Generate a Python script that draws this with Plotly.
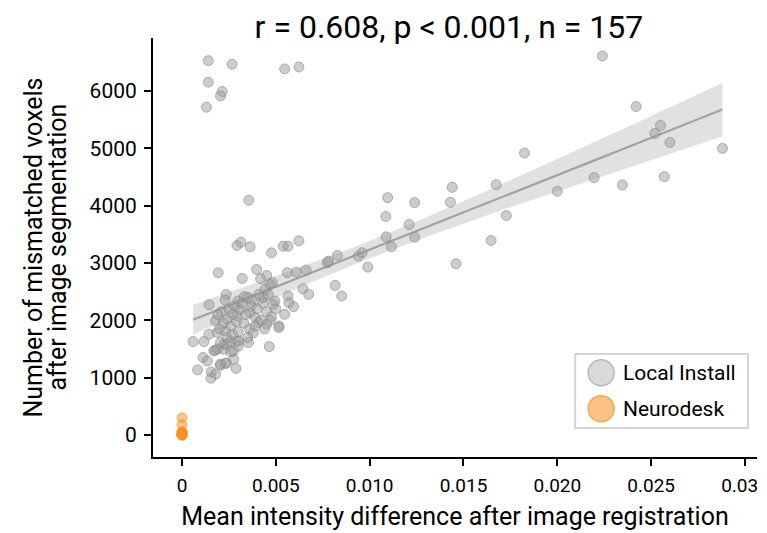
import numpy as np
import plotly.graph_objects as go

# values (estimates)
local_x = [
    0.0014, 0.00267, 0.0014, 0.00214, 0.00205, 0.0013, 0.00547, 0.00623,
    0.0224, 0.0242, 0.0255, 0.0252, 0.0260, 0.0288, 0.01825, 0.0200, 0.02196, 0.02347, 0.0257,
    0.01096, 0.0124, 0.0144, 0.0143, 0.01674, 0.01086, 0.0121, 0.01728, 0.01088, 0.0124,
    0.01116, 0.01647, 0.0096, 0.0094, 0.0099, 0.0146,
    0.00539, 0.00565, 0.00623, 0.00477, 0.00561, 0.00609, 0.00661, 0.00775, 0.0078, 0.00828,
    0.00482, 0.00644, 0.00675, 0.00816, 0.00851, 0.00565, 0.0057, 0.00595, 0.00495, 0.00486,
    0.00547, 0.00477, 0.00517, 0.00465, 0.00356,
    0.00293, 0.00314, 0.00363, 0.00193, 0.00321, 0.00398, 0.00451, 0.00419, 0.00235, 0.00144,
    0.00332, 0.00298, 0.00372, 0.00442, 0.00468, 0.00433,
    0.00059, 0.00117, 0.00112, 0.00135, 0.00083, 0.00156, 0.00179, 0.00154, 0.00205, 0.00237,
    0.00275, 0.00288, 0.00175, 0.00223, 0.00223, 0.00258, 0.00293, 0.00354, 0.00179, 0.0024,
    0.00293, 0.00363, 0.00407, 0.00451, 0.00516, 0.00144, 0.00188, 0.00232, 0.00302, 0.00205,
    0.0024, 0.00188, 0.0017, 0.00275, 0.00205, 0.00232,
    0.0021, 0.0025, 0.0028, 0.0031, 0.0034, 0.0037, 0.0040, 0.0043, 0.0045, 0.0022,
    0.0026, 0.0029, 0.0033, 0.0036, 0.0039, 0.0042, 0.0047, 0.0050, 0.0024, 0.0027,
    0.0030, 0.0035, 0.0038, 0.0020, 0.0032, 0.0035, 0.0027, 0.0041, 0.0046, 0.0019,
    0.0023, 0.0030, 0.0026, 0.0039, 0.0044,
]
local_y = [
    6527, 6464, 6151, 5988, 5913, 5716, 6383, 6417,
    6609, 5727, 5397, 5257, 5101, 4997, 4917, 4249, 4487, 4360, 4504,
    4139, 4052, 4318, 4058, 4365, 3809, 3670, 3826, 3456, 3449,
    3281, 3391, 3177, 3118, 2927, 2986,
    3292, 3292, 3386, 3177, 2829, 2840, 2875, 3003, 3032, 3130,
    2656, 2551, 2452, 2609, 2423, 2423, 2307, 2238, 2336, 2278,
    2104, 2064, 1901, 1542, 4092,
    3304, 3362, 3281, 2829, 2730, 2887, 2783, 2725, 2452, 2272,
    2412, 2336, 2365, 2539, 2626, 2394,
    1629, 1629, 1351, 1292, 1136, 1101, 1061, 991, 1217, 1252,
    1322, 1160, 1478, 1496, 1583, 1640, 1640, 1612, 1988, 2017,
    2075, 2134, 1960, 1930, 1873, 1757, 1786, 1814, 1640, 1612,
    1583, 1496, 1466, 1466, 1235, 1252,
    2150, 2200, 2250, 2180, 2100, 2250, 2200, 2300, 2150, 1950,
    1900, 1980, 1950, 1850, 2050, 2000, 2000, 2200, 1700, 1750,
    1800, 1700, 1780, 1850, 2300, 2400, 2100, 2450, 2450, 2100,
    2350, 1550, 1450, 1900, 1850,
]
neuro_x = [0, 0, 0, 0, 0, 0, 0, 0, 0, 0]
neuro_y = [300, 180, 60, 40, 30, 20, 10, 0, 0, 0]

x_ticks = [0, 0.005, 0.010, 0.015, 0.020, 0.025, 0.030]
x_tick_text = ["0", "0.005", "0.010", "0.015", "0.020", "0.025", "0.030"]
y_ticks = [0, 1000, 2000, 3000, 4000, 5000, 6000]
legend_names = ["Local Install", "Neurodesk"]
y_title_lines = ["Number of mismatched voxels", "after image segmentation"]

FONT = "Roboto"

# linear fit with a robust (sandwich) 95% band, close to a bootstrap band
lx = np.array(local_x)
ly = np.array(local_y)
n = len(lx)
X = np.column_stack([np.ones(n), lx])
beta, *_ = np.linalg.lstsq(X, ly, rcond=None)
resid = ly - X @ beta
xtx_inv = np.linalg.inv(X.T @ X)
meat = X.T @ (X * (resid ** 2)[:, None])
cov = xtx_inv @ meat @ xtx_inv * n / (n - 2)
grid = np.linspace(lx.min(), lx.max(), 100)
G = np.column_stack([np.ones_like(grid), grid])
fit = G @ beta
half = 1.975 * np.sqrt(np.einsum("ij,jk,ik->i", G, cov, G))

fig = go.Figure()

fig.add_trace(go.Scatter(
    x=np.concatenate([grid, grid[::-1]]),
    y=np.concatenate([fit + half, (fit - half)[::-1]]),
    fill="toself", fillcolor="rgba(205,205,205,0.6)",
    line=dict(width=0), hoverinfo="skip", showlegend=False,
))
fig.add_trace(go.Scatter(
    x=grid, y=fit, mode="lines",
    line=dict(color="#a3a3a3", width=2.2), showlegend=False,
))
fig.add_trace(go.Scatter(
    x=local_x, y=local_y, mode="markers", name=legend_names[0],
    marker=dict(size=10, color="rgba(155,155,155,0.5)",
                line=dict(color="rgba(135,135,135,0.6)", width=1)),
    showlegend=False,
))
fig.add_trace(go.Scatter(
    x=neuro_x, y=neuro_y, mode="markers", name=legend_names[1],
    marker=dict(size=10, color="rgba(247,148,29,0.5)",
                line=dict(color="rgba(240,140,30,0.6)", width=1)),
    showlegend=False,
))

# hand-drawn legend with big markers
shapes = [dict(type="rect", xref="paper", yref="paper",
               x0=0.699, x1=0.985, y0=0.069, y1=0.246,
               line=dict(color="#d4d4d4", width=2), fillcolor="white")]
annotations = []
legend_fill = ["#d9d9d9", "#fbc185"]
legend_edge = ["#b8b8b8", "#f5a650"]
legend_y = [0.201, 0.115]
for name, fc, ec, yy in zip(legend_names, legend_fill, legend_edge, legend_y):
    shapes.append(dict(type="circle", xref="paper", yref="paper",
                       xsizemode="pixel", ysizemode="pixel",
                       xanchor=0.742, yanchor=yy, x0=-13, x1=13, y0=-13, y1=13,
                       fillcolor=fc, line=dict(color=ec, width=1.5)))
    annotations.append(dict(x=0.775, y=yy, xref="paper", yref="paper",
                            text=name, showarrow=False, xanchor="left",
                            yanchor="middle", font=dict(size=21, color="black")))

# two-line y title, placed as rotated text
for line, shift in zip(y_title_lines, [-120, -96]):
    annotations.append(dict(x=0, y=0.5, xref="paper", yref="paper", xshift=shift,
                            text=line, textangle=-90, showarrow=False,
                            xanchor="center", yanchor="middle",
                            font=dict(size=25, color="black")))

# the page body adds an 8px offset; margins are set so the plot lands where it should
fig.update_layout(
    width=767, height=533,
    margin=dict(l=145, r=18, t=30, b=84),
    paper_bgcolor="white", plot_bgcolor="white",
    font=dict(family=FONT, color="black"),
    title=dict(text="r = 0.608, p < 0.001, n = 157", xref="paper", x=0.49,
               xanchor="center", y=0.965, yanchor="middle", font=dict(size=32)),
    shapes=shapes, annotations=annotations,
    showlegend=False,
)
fig.update_xaxes(
    range=[-0.001545, 0.03064], tickvals=x_ticks, ticktext=x_tick_text,
    showgrid=False, zeroline=False, showline=True, linecolor="black", linewidth=2,
    ticks="outside", ticklen=7, tickwidth=1.5, tickcolor="black",
    tickfont=dict(size=19), automargin=False, ticklabelstandoff=3,
    ticklabeloverflow="allow",
    title=dict(text="Mean intensity difference after image registration",
               font=dict(size=25), standoff=12),
)
fig.update_yaxes(
    range=[-383, 6922], tickvals=y_ticks,
    showgrid=False, zeroline=False, showline=True, linecolor="black", linewidth=2,
    ticks="outside", ticklen=7, tickwidth=1.5, tickcolor="black",
    tickfont=dict(size=21), automargin=False, ticklabelstandoff=3,
)

fig.write_html("out.html")
